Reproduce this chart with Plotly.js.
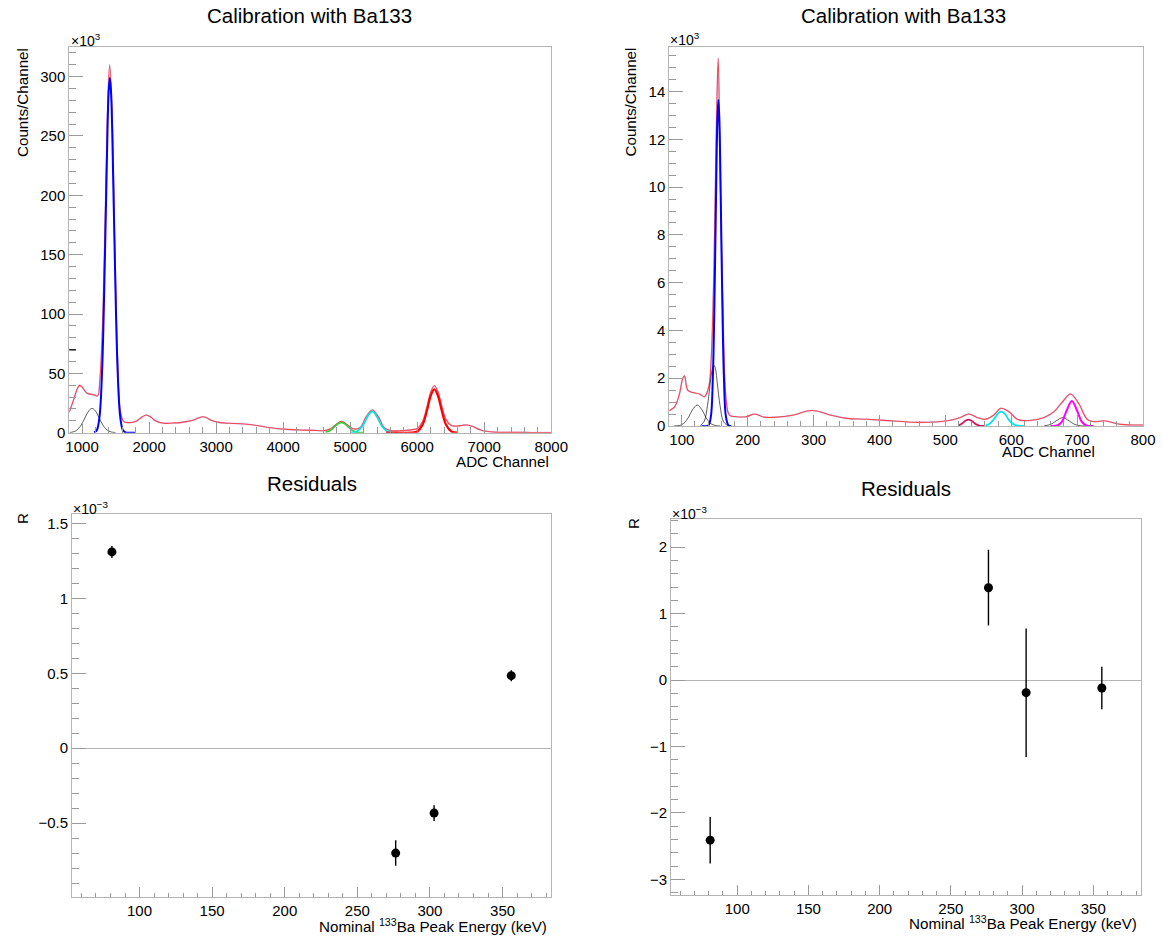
<!DOCTYPE html>
<html>
<head>
<meta charset="utf-8">
<script src="https://cdn.plot.ly/plotly-3.0.1.min.js"></script>
<style>
  html, body { margin: 0; padding: 0; background: #fff; }
  #chart { width: 1163px; height: 938px; }
</style>
</head>
<body>
<div id="chart"></div>
<script>
// ---------- Top-left spectrum (ADC channel, counts x10^3) ----------
const chA = [810, 870, 930, 964, 1000, 1075, 1173, 1233, 1265, 1300, 1340, 1380, 1412, 1450, 1490, 1530, 1572, 1621, 1696, 1760, 1821, 1890, 1960, 2030, 2094, 2218, 2350, 2467, 2580, 2666, 2740, 2800, 2860, 2915, 3064, 3200, 3363, 3561, 3700, 3810, 4060, 4258, 4450, 4606, 4700, 4780, 4866, 4950, 5054, 5150, 5240, 5328, 5420, 5510, 5601, 5800, 5950, 6000, 6080, 6150, 6200, 6255, 6310, 6360, 6430, 6510, 6597, 6680, 6746, 6820, 6945, 7143, 7400, 7700, 8000];
const totalA = [17.2, 27, 37, 39.9, 38.5, 33.2, 32, 31, 44, 81, 166, 270, 310, 265, 154, 63.5, 18, 9.3, 8.5, 8.8, 10.1, 13, 14.9, 13, 10.1, 7.9, 8.2, 8.5, 9.6, 10.7, 12.5, 13.5, 12.5, 10.7, 8.5, 7.9, 7.6, 6.5, 5.2, 4.2, 2.8, 2.3, 2.0, 1.7, 3.2, 6.5, 9.5, 7.0, 3.1, 4.5, 13.5, 19.1, 13.5, 4.0, 1.9, 1.8, 2.8, 3.5, 9.4, 22.8, 34, 39.6, 34.5, 23.8, 11, 6.0, 5.6, 6.3, 6.5, 5.5, 2.3, 0.5, 0.3, 0.2, 0.1];

const chBlackA = [815, 900, 980, 1050, 1100, 1149, 1200, 1250, 1320, 1400, 1500];
const blackA   = [0.14, 1.3, 5.8, 13.3, 18.3, 20.5, 18.3, 13, 5.6, 1.25, 0.1];

const chBlueA = [1180, 1220, 1260, 1300, 1340, 1380, 1397, 1415, 1433, 1450, 1490, 1530, 1570, 1610, 1650, 1700, 1800];
const blueA   = [0.2, 2.1, 13.1, 53.5, 143.8, 255, 286.7, 299, 286.7, 255, 143.8, 53.5, 13.1, 2.1, 0.2, 0, 0];

const chGreenA = [4632, 4700, 4760, 4810, 4866, 4920, 4970, 5030, 5100, 5204];
const greenA   = [0.4, 1.9, 4.7, 7.3, 8.7, 7.4, 4.9, 2.0, 0.4, 0.03];

const chCyanA = [5004, 5100, 5180, 5250, 5290, 5328, 5365, 5400, 5470, 5550, 5627];
const cyanA   = [0.05, 1.0, 5.3, 12.6, 16.3, 17.7, 16.4, 13.3, 5.8, 1.15, 0.13];

const chRedA = [5533, 5700, 5900, 6000, 6080, 6150, 6200, 6255, 6310, 6360, 6430, 6510, 6597];
const redA   = [0, 0, 0.03, 1.0, 6.7, 19.8, 30.9, 36.5, 30.9, 19.8, 6.7, 1.0, 0.06];

// ---------- Top-right spectrum ----------
const chB = [81, 89, 96, 101.5, 104, 109, 116.7, 126.7, 134.4, 141, 144.5, 148.6, 152.1, 155.2, 158.2, 162.3, 167.3, 172.3, 182.5, 197.7, 211, 225, 239, 270, 290, 305, 325, 351, 381, 422, 462, 503, 523, 535.6, 548, 561, 573.6, 584, 596.4, 609, 624, 650, 665, 677.5, 690, 702.7, 715.5, 728, 741, 766, 800];
const totalB = [0.65, 0.8, 1.3, 2.0, 2.1, 1.5, 1.4, 1.34, 1.23, 1.65, 2.76, 6.4, 12, 15.4, 10.6, 5, 1.09, 0.46, 0.39, 0.39, 0.5, 0.37, 0.36, 0.46, 0.63, 0.63, 0.46, 0.32, 0.28, 0.21, 0.15, 0.22, 0.36, 0.5, 0.36, 0.28, 0.46, 0.74, 0.6, 0.28, 0.22, 0.36, 0.6, 1.0, 1.34, 0.93, 0.28, 0.18, 0.22, 0.07, 0.04];

const chBlackB1 = [88, 96, 103, 110, 116, 123.3, 130, 137, 144, 151, 158];
const blackB1   = [0, 0.02, 0.11, 0.36, 0.67, 0.88, 0.7, 0.34, 0.1, 0.02, 0];
const chBlackB2 = [128, 134, 139, 143, 146, 148.6, 151, 154, 158, 163, 169];
const blackB2   = [0.02, 0.2, 0.86, 1.76, 2.35, 2.55, 2.4, 1.76, 0.86, 0.2, 0.02];
const chBlueB = [130, 140, 144, 147, 150, 152.5, 154, 155.5, 157, 158.5, 161, 164, 167, 171, 175];
const blueB   = [0, 0.02, 0.38, 1.94, 6.0, 10.7, 12.8, 13.65, 12.8, 10.7, 6.0, 1.94, 0.38, 0.02, 0];
const chCrimsonB = [520, 526, 531, 535, 540, 546, 553, 560];
const crimsonB   = [0.027, 0.12, 0.23, 0.27, 0.21, 0.08, 0.01, 0];
const chCyanB = [561, 568, 575, 580, 584.5, 590, 596, 604, 612, 619];
const cyanB   = [0.02, 0.11, 0.34, 0.53, 0.6, 0.52, 0.27, 0.06, 0.01, 0];
const chBlackB3 = [650, 660, 668, 678, 688, 696, 705, 713];
const blackB3   = [0.007, 0.07, 0.21, 0.35, 0.21, 0.07, 0.01, 0];
const chMagentaB = [660, 670, 677, 684, 692, 700, 707, 714, 725];
const magentaB   = [0, 0.02, 0.18, 0.64, 1.05, 0.64, 0.18, 0.02, 0];

// ---------- Residuals (x10^-3) ----------
const energy = [81.0, 276.4, 302.85, 356.0];
const resA = [1.31, -0.70, -0.433, 0.484];
const errA = [0.04, 0.085, 0.053, 0.037];
const resB = [-2.41, 1.39, -0.19, -0.12];
const errB = [0.35, 0.57, 0.967, 0.32];

// ---------- Drawing ----------
const W = 1163, H = 938;
const FONT = 'Liberation Sans, Arial, Helvetica, sans-serif';
const px = v => v / W;
const py = v => 1 - v / H;

function line(x, y, color, width, xa, ya, opacity) {
  return {x: x, y: y, type: 'scatter', mode: 'lines', xaxis: xa, yaxis: ya,
          line: {color: color, width: width, shape: 'spline', smoothing: 1},
          opacity: opacity === undefined ? 1 : opacity, hoverinfo: 'skip', showlegend: false};
}

const traces = [
  // top-left: data histogram, total fit, components
  line(chA, totalA, 'rgb(110,110,255)', 1.6, 'x', 'y', 0.35),
  line(chA, totalA, 'rgb(255,45,45)', 1.1, 'x', 'y', 0.85),
  line(chBlackA, blackA, '#000000', 0.8, 'x', 'y', 0.8),
  line(chBlueA, blueA, '#0000ff', 2, 'x', 'y'),
  line(chGreenA, greenA, '#33cc33', 1.6, 'x', 'y'),
  line(chCyanA, cyanA, '#00e5ee', 1.8, 'x', 'y'),
  line(chRedA, redA, '#ff0000', 2.2, 'x', 'y'),
  // top-right
  line(chB, totalB, 'rgb(110,110,255)', 1.6, 'x2', 'y2', 0.35),
  line(chB, totalB, 'rgb(255,45,45)', 1.1, 'x2', 'y2', 0.85),
  line(chBlackB1, blackB1, '#000000', 0.8, 'x2', 'y2', 0.8),
  line(chBlackB2, blackB2, '#000000', 0.8, 'x2', 'y2', 0.8),
  line(chBlueB, blueB, '#0000ff', 2, 'x2', 'y2'),
  line(chCrimsonB, crimsonB, '#d4145a', 1.8, 'x2', 'y2'),
  line(chCyanB, cyanB, '#00e5ee', 1.8, 'x2', 'y2'),
  line(chBlackB3, blackB3, '#000000', 0.8, 'x2', 'y2', 0.8),
  line(chMagentaB, magentaB, '#ff00ff', 2, 'x2', 'y2'),
  // residuals
  {x: energy, y: resA, type: 'scatter', mode: 'markers', xaxis: 'x3', yaxis: 'y3',
   marker: {color: '#000', size: 9}, error_y: {type: 'data', array: errA, visible: true, color: '#000', thickness: 1.4, width: 0},
   hoverinfo: 'skip', showlegend: false},
  {x: energy, y: resB, type: 'scatter', mode: 'markers', xaxis: 'x4', yaxis: 'y4',
   marker: {color: '#000', size: 9}, error_y: {type: 'data', array: errB, visible: true, color: '#000', thickness: 1.4, width: 0},
   hoverinfo: 'skip', showlegend: false}
];

const FRAME = '#b4b4b4';
const TICK = '#9a9a9a';
function xax(domain, range, dtick, minor, anchor, len, mlen) {
  return {domain: domain, range: range, anchor: anchor, dtick: dtick, tick0: 0,
    ticks: 'inside', ticklen: len, tickwidth: 1, tickcolor: TICK,
    minor: {ticks: 'inside', dtick: minor, ticklen: mlen, tickwidth: 1, tickcolor: TICK, showgrid: false},
    showline: true, linecolor: FRAME, linewidth: 1, mirror: true,
    showgrid: false, zeroline: false, tickfont: {family: FONT, size: 15, color: '#000'},
    fixedrange: true};
}
function yax(domain, range, dtick, minor, anchor, zl) {
  return {domain: domain, range: range, anchor: anchor, dtick: dtick, tick0: 0,
    ticks: 'inside', ticklen: 14, tickwidth: 1, tickcolor: TICK,
    minor: {ticks: 'inside', dtick: minor, ticklen: 7, tickwidth: 1, tickcolor: TICK, showgrid: false},
    showline: true, linecolor: FRAME, linewidth: 1, mirror: true,
    showgrid: false, zeroline: zl, zerolinecolor: '#b4b4b4', zerolinewidth: 1,
    tickfont: {family: FONT, size: 15, color: '#000'}, fixedrange: true};
}

function txt(x, y, text, size, opts) {
  return Object.assign({xref: 'paper', yref: 'paper', x: px(x), y: py(y), text: text, showarrow: false,
    font: {family: FONT, size: size, color: '#000'}, xanchor: 'center', yanchor: 'middle'}, opts || {});
}

const layout = {
  width: W, height: H,
  margin: {l: 0, r: 0, t: 0, b: 0},
  paper_bgcolor: '#fff', plot_bgcolor: '#fff',
  showlegend: false,
  xaxis:  xax([px(69.3), px(551.3)], [810, 8000], 1000, 200, 'y', 11, 5.5),
  yaxis:  yax([1 - 432.7 / H, 1 - 47.3 / H], [0, 324.7], 50, 10, 'x', false),
  xaxis2: xax([px(669.3), px(1143)], [81, 800], 100, 20, 'y2', 11, 5.5),
  yaxis2: yax([1 - 426 / H, 1 - 46.7 / H], [0, 15.88], 2, 0.5, 'x2', false),
  xaxis3: xax([px(72), px(551.2)], [53.5, 383.5], 50, 10, 'y3', 10, 4.5),
  yaxis3: yax([1 - 897.3 / H, 1 - 514 / H], [-0.995, 1.563], 0.5, 0.1, 'x3', true),
  xaxis4: xax([px(671), px(1141)], [53.5, 383.5], 50, 10, 'y4', 10, 4.5),
  yaxis4: yax([1 - 895.3 / H, 1 - 519.3 / H], [-3.24, 2.42], 1, 0.2, 'x4', true),
  shapes: [
    {type: 'line', xref: 'paper', yref: 'y', x0: px(69.3), x1: px(76), y0: 69.7, y1: 69.7,
     line: {color: '#000', width: 1.2}}
  ],
  annotations: [
    txt(309.5, 16, 'Calibration with Ba133', 20.5),
    txt(903.5, 16, 'Calibration with Ba133', 20.5),
    txt(311.5, 483, 'Residuals', 20.5),
    txt(906, 488.5, 'Residuals', 20.5),
    txt(22, 103, 'Counts/Channel', 15.2, {textangle: -90}),
    txt(630.5, 102, 'Counts/Channel', 15.2, {textangle: -90}),
    txt(22, 519, 'R', 15.2, {textangle: -90}),
    txt(633, 524, 'R', 15.2, {textangle: -90}),
    txt(551.2, 461, 'ADC Channel', 15.2, {xanchor: 'right'}),
    txt(1097, 452, 'ADC Channel', 15.2, {xanchor: 'right'}),
    txt(548.5, 925, 'Nominal <sup>133</sup>Ba Peak Energy (keV)', 15.2, {xanchor: 'right'}),
    txt(1138.5, 922, 'Nominal <sup>133</sup>Ba Peak Energy (keV)', 15.2, {xanchor: 'right'}),
    txt(68.5, 40, '×10<sup>3</sup>', 14, {xanchor: 'left'}),
    txt(668, 39, '×10<sup>3</sup>', 14, {xanchor: 'left'}),
    txt(71, 508, '×10<sup>−3</sup>', 14, {xanchor: 'left'}),
    txt(670, 513, '×10<sup>−3</sup>', 14, {xanchor: 'left'})
  ]
};

Plotly.newPlot('chart', traces, layout, {displayModeBar: false, staticPlot: true});
</script>
</body>
</html>
